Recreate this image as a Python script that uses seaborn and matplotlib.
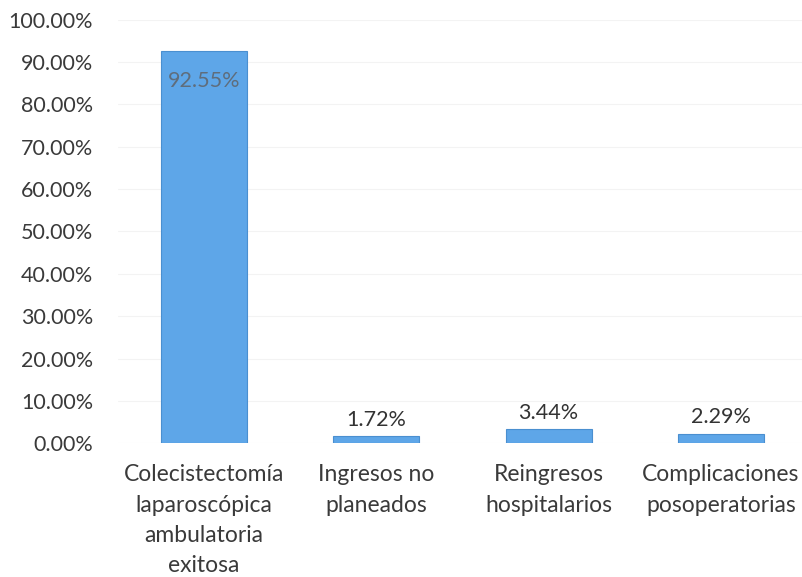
import matplotlib
matplotlib.use("Agg")
import matplotlib.pyplot as plt
import seaborn as sns
import pandas as pd

categorias = [
    "Colecistectomía\nlaparoscópica\nambulatoria\nexitosa",
    "Ingresos no\nplaneados",
    "Reingresos\nhospitalarios",
    "Complicaciones\nposoperatorias",
]
porcentajes = [92.55, 1.72, 3.44, 2.29]
ticks_y = [0, 10, 20, 30, 40, 50, 60, 70, 80, 90, 100]

sns.set_theme(style="white")
plt.rcParams["font.family"] = ["Lato", "DejaVu Sans"]

df = pd.DataFrame({"categoria": categorias, "valor": porcentajes})

fig = plt.figure(figsize=(8.03, 5.77), dpi=100)
ax = fig.add_axes([0.147, 0.2314, 0.858, 0.7348])

sns.barplot(data=df, x="categoria", y="valor", color="#5ea6e8",
            width=0.5, edgecolor="#4a8fd0", linewidth=0.8, saturation=1, ax=ax)

ax.set_xlim(-0.5, 3.5)
ax.set_ylim(0, 100)
ax.set_yticks(ticks_y)
ax.set_yticklabels([f"{t:.2f}%" for t in ticks_y], fontsize=15.5, color="#3a3a3a")
ax.tick_params(axis="y", length=0, pad=18)
ax.tick_params(axis="x", length=0, pad=15, labelsize=16.5, labelcolor="#3a3a3a")
ax.set_xlabel("")
ax.set_ylabel("")
ax.grid(axis="y", color="#f3f3f3", linewidth=0.8)
ax.set_axisbelow(True)
for s in ax.spines.values():
    s.set_visible(False)
for lbl in ax.get_xticklabels():
    lbl.set_linespacing(1.55)

for i, v in enumerate(porcentajes):
    if v > 50:
        ax.text(i, v - 4.6, f"{v:.2f}%", ha="center", va="top",
                fontsize=15.5, color="#5f6d7c")
    else:
        ax.text(i, v + 1.5, f"{v:.2f}%", ha="center", va="bottom",
                fontsize=15.5, color="#333333")

fig.savefig("out.png", dpi=100)
